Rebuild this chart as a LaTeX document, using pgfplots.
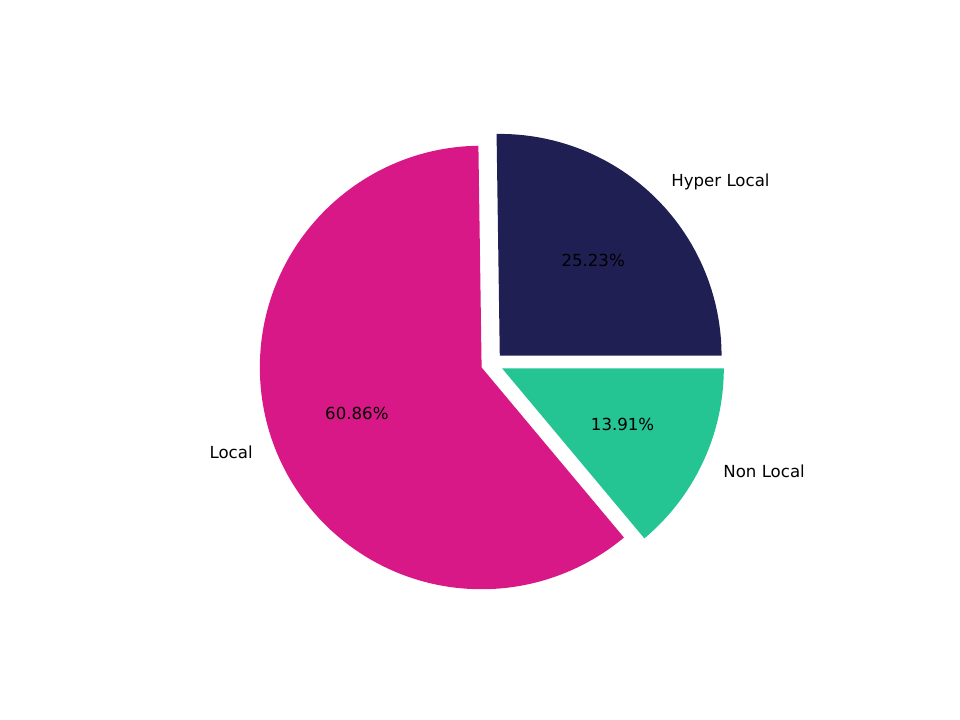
\documentclass[border=0pt]{standalone}
\usepackage{pgfplots}
\usepackage{pgfplotstable}
\pgfplotsset{compat=1.18}
\usepackage{fontspec}
\setmainfont{DejaVu Sans}

\definecolor{hyper}{RGB}{31,31,84}
\definecolor{local}{RGB}{216,24,134}
\definecolor{nonlocal}{RGB}{36,196,147}

% share of each category (%)
\pgfplotstableread{
name     value
Hyper    25.23
Local    60.86
NonLocal 13.91
}\piedata

\begin{document}
\begin{tikzpicture}
\begin{axis}[
    width=576bp, height=432bp,
    scale only axis,
    hide axis,
    clip=false,
    xmin=-2.2186, xmax=2.1104,
    ymin=-1.6071, ymax=1.6396,
]
\path (rel axis cs:0,0) rectangle (rel axis cs:1,1);
\def\R{133.06bp}
\pgfplotstablegetelem{0}{value}\of\piedata \let\va\pgfplotsretval
\pgfplotstablegetelem{1}{value}\of\piedata \let\vb\pgfplotsretval
\pgfplotstablegetelem{2}{value}\of\piedata \let\vc\pgfplotsretval
\pgfmathsetmacro{\aa}{3.6*\va}
\pgfmathsetmacro{\ab}{\aa+3.6*\vb}
% Hyper Local
\pgfmathsetmacro{\ma}{\aa/2}
\pgfmathsetmacro{\ex}{0.05*cos(\ma)}\pgfmathsetmacro{\ey}{0.05*sin(\ma)}
\fill[hyper] (axis cs:\ex,\ey) -- (axis cs:\ex+1,\ey) arc[start angle=0, end angle=\aa, radius=\R] -- cycle;
\node[anchor=center] at (axis cs:{\ex+0.6*cos(\ma)},{\ey+0.6*sin(\ma)}) {25.23\%};
\node[anchor=west, inner sep=0pt] at (axis cs:{\ex+1.1*cos(\ma)},{\ey+1.1*sin(\ma)}) {Hyper Local};
% Local
\pgfmathsetmacro{\mb}{(\aa+\ab)/2}
\pgfmathsetmacro{\fx}{0.05*cos(\mb)}\pgfmathsetmacro{\fy}{0.05*sin(\mb)}
\fill[local] (axis cs:\fx,\fy) -- (axis cs:{\fx+cos(\aa)},{\fy+sin(\aa)}) arc[start angle=\aa, end angle=\ab, radius=\R] -- cycle;
\node[anchor=center] at (axis cs:{\fx+0.6*cos(\mb)},{\fy+0.6*sin(\mb)}) {60.86\%};
\node[anchor=east, inner sep=0pt] at (axis cs:{\fx+1.1*cos(\mb)},{\fy+1.1*sin(\mb)}) {Local};
% Non Local
\pgfmathsetmacro{\mc}{(\ab+360)/2}
\pgfmathsetmacro{\gx}{0.05*cos(\mc)}\pgfmathsetmacro{\gy}{0.05*sin(\mc)}
\fill[nonlocal] (axis cs:\gx,\gy) -- (axis cs:{\gx+cos(\ab)},{\gy+sin(\ab)}) arc[start angle=\ab, end angle=360, radius=\R] -- cycle;
\node[anchor=center] at (axis cs:{\gx+0.6*cos(\mc)},{\gy+0.6*sin(\mc)}) {13.91\%};
\node[anchor=west, inner sep=0pt] at (axis cs:{\gx+1.1*cos(\mc)},{\gy+1.1*sin(\mc)}) {Non Local};
\end{axis}
\end{tikzpicture}
\end{document}
